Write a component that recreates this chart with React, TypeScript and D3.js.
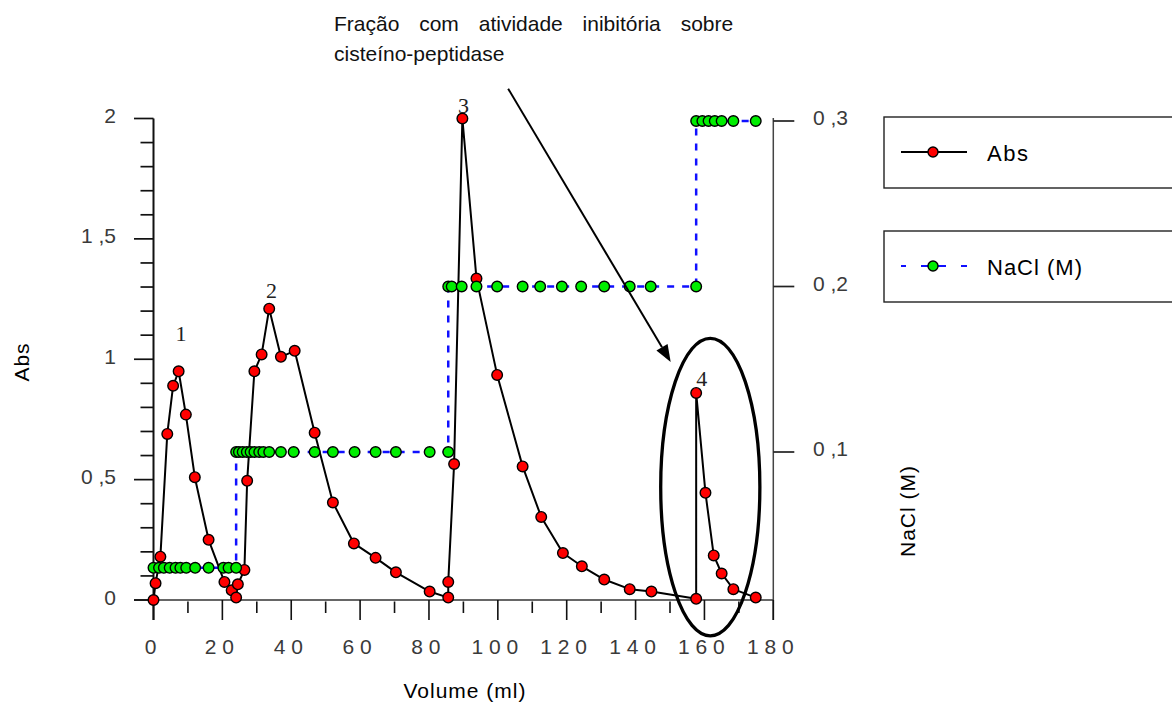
import React, { useEffect, useRef } from 'react'
import * as d3 from 'd3'

// Abs (red points, black line)
const absVolume = [0, 0.6, 2, 4, 5.7, 7.3, 9.4, 12, 16, 20.6, 22.7, 24, 24.5, 26.4, 27.2, 29.3, 31.4, 33.6, 37, 41,
    46.8, 52.1, 58.2, 64.5, 70.4, 80.2, 85.6, 85.6, 87.3, 89.7, 93.8, 99.8, 107.2, 112.6, 118.9, 124.4, 130.9, 138.3, 144.6, 157.6,
    157.6, 160.3, 162.7, 165, 168.4, 174.9]
const absValues = [0, 0.07, 0.18, 0.69, 0.89, 0.95, 0.77, 0.51, 0.25, 0.075, 0.04, 0.01, 0.065, 0.125, 0.495, 0.95, 1.02, 1.21, 1.01, 1.035,
    0.695, 0.405, 0.235, 0.175, 0.115, 0.035, 0.01, 0.075, 0.565, 2.0, 1.335, 0.935, 0.555, 0.345, 0.195, 0.14, 0.085, 0.045, 0.035, 0.005,
    0.86, 0.445, 0.185, 0.11, 0.045, 0.01]

// NaCl step gradient (green points, blue dashed line)
const naclVolume = [0, 1.6, 3, 4.7, 6.4, 7.8, 9.5, 12.1, 16, 20.3, 21.8, 24,
    24, 24.8, 25.9, 27.1, 28.2, 29.3, 30.7, 31.9, 33.6, 37, 40.7, 46.8, 52.1, 58.4, 64.5, 70.4, 80.2, 85.6,
    85.6, 86.6, 89.5, 93.8, 99.8, 107.2, 112.3, 118.6, 124.2, 130.9, 138.3, 144.4, 157.6,
    157.6, 159.4, 161.2, 163, 165, 168.4, 174.9]
const naclValues = [0.03, 0.03, 0.03, 0.03, 0.03, 0.03, 0.03, 0.03, 0.03, 0.03, 0.03, 0.03,
    0.1, 0.1, 0.1, 0.1, 0.1, 0.1, 0.1, 0.1, 0.1, 0.1, 0.1, 0.1, 0.1, 0.1, 0.1, 0.1, 0.1, 0.1,
    0.2, 0.2, 0.2, 0.2, 0.2, 0.2, 0.2, 0.2, 0.2, 0.2, 0.2, 0.2, 0.2,
    0.3, 0.3, 0.3, 0.3, 0.3, 0.3, 0.3]

// axes
const volumeTicks = [0, 20, 40, 60, 80, 100, 120, 140, 160, 180]
const volumeMinorTicks = [10, 30, 50, 70, 90, 110, 130, 150, 170]
const absTicks = [0, 0.5, 1, 1.5, 2]
const absTickLabels = ['0', '0 ,5', '1', '1 ,5', '2']
const absMinorTicks = [0.1, 0.2, 0.3, 0.4, 0.6, 0.7, 0.8, 0.9, 1.1, 1.2, 1.3, 1.4, 1.6, 1.7, 1.8, 1.9]
const naclTicks = [0.1, 0.2, 0.3]
const naclTickLabels = ['0 ,1', '0 ,2', '0 ,3']

// peak numbers (volume, abs where the number sits)
const peakNames = ['1', '2', '3', '4']
const peakVolume = [8, 34.3, 90, 159.2]
const peakAbs = [1.075, 1.255, 2.023, 0.888]

// highlighted fraction (ellipse) and arrow, in data units
const fractionCenter = [161.7, 0.469]
const fractionRadius = [14.4, 0.618]
const arrowFrom = [103, 2.124]
const arrowTo = [150.2, 0.989]

const noteLines = ['Fração com atividade inibitória sobre', 'cisteíno-peptidase']

const App = () => {
    const svgRef = useRef<SVGSVGElement>(null)

    useEffect(() => {
        const svg = d3.select(svgRef.current)
        svg.selectAll('*').remove()

        const sans = "'Liberation Sans', Arial, sans-serif"
        const serif = "'Liberation Serif', 'Times New Roman', serif"

        const x = d3.scaleLinear().domain([0, 180]).range([153.5, 773.3])
        const y = d3.scaleLinear().domain([0, 2]).range([600, 118.5])
        const y2 = d3.scaleLinear().domain([0, 0.3]).range([617.5, 121])

        const abs = absVolume.map((v, i) => ({ v, a: absValues[i] }))
        const nacl = naclVolume.map((v, i) => ({ v, c: naclValues[i] }))

        // --- axes ---
        const axes = svg.append('g')
        // left axis line (runs down past 0 like the original)
        axes.append('line').attr('x1', x(0)).attr('x2', x(0)).attr('y1', y(2)).attr('y2', 620)
            .attr('stroke', '#111').attr('stroke-width', 2)
        // bottom axis line (runs left past 0)
        axes.append('line').attr('x1', 134).attr('x2', x(180)).attr('y1', y(0)).attr('y2', y(0))
            .attr('stroke', '#333').attr('stroke-width', 1.4)
        // right axis line
        axes.append('line').attr('x1', x(180)).attr('x2', x(180)).attr('y1', y2(0.3) - 3).attr('y2', 620)
            .attr('stroke', '#444').attr('stroke-width', 1.5)

        axes.selectAll('.ymaj').data(absTicks).join('line')
            .attr('x1', 134).attr('x2', x(0)).attr('y1', d => y(d)).attr('y2', d => y(d))
            .attr('stroke', '#111').attr('stroke-width', 1.7)
        axes.selectAll('.ymin').data(absMinorTicks).join('line')
            .attr('x1', 140.5).attr('x2', x(0)).attr('y1', d => y(d)).attr('y2', d => y(d))
            .attr('stroke', '#111').attr('stroke-width', 1.7)
        axes.selectAll('.ylab').data(absTicks).join('text')
            .attr('x', 116).attr('y', d => y(d) + 4.5)
            .attr('text-anchor', 'end').attr('font-family', sans).attr('font-size', 21).attr('fill', '#3a3a3a')
            .text((d, i) => absTickLabels[i])

        axes.selectAll('.xmaj').data(volumeTicks).join('line')
            .attr('x1', d => x(d)).attr('x2', d => x(d)).attr('y1', y(0)).attr('y2', 620)
            .attr('stroke', '#111').attr('stroke-width', 1.6)
        axes.selectAll('.xmin').data(volumeMinorTicks).join('line')
            .attr('x1', d => x(d)).attr('x2', d => x(d)).attr('y1', y(0) + 1.5).attr('y2', 613)
            .attr('stroke', '#111').attr('stroke-width', 1.6)
        axes.selectAll('.xlab').data(volumeTicks).join('text')
            .attr('x', d => x(d) - 3).attr('y', 654)
            .attr('text-anchor', 'middle').attr('font-family', sans).attr('font-size', 21).attr('fill', '#3a3a3a')
            .text(d => String(d).split('').join(' '))

        axes.selectAll('.y2maj').data(naclTicks).join('line')
            .attr('x1', x(180)).attr('x2', x(180) + 21).attr('y1', d => y2(d)).attr('y2', d => y2(d))
            .attr('stroke', '#222').attr('stroke-width', 1.7)
        axes.selectAll('.y2lab').data(naclTicks).join('text')
            .attr('x', 813).attr('y', d => y2(d) + 4)
            .attr('font-family', sans).attr('font-size', 21).attr('fill', '#3a3a3a')
            .text((d, i) => naclTickLabels[i])

        // axis titles
        svg.append('text').attr('transform', 'translate(29,362) rotate(-90)')
            .attr('text-anchor', 'middle').attr('font-family', sans).attr('font-size', 21)
            .attr('letter-spacing', 1).text('Abs')
        svg.append('text').attr('transform', 'translate(915,511) rotate(-90)')
            .attr('text-anchor', 'middle').attr('font-family', sans).attr('font-size', 21)
            .attr('letter-spacing', 1).text('NaCl (M)')
        svg.append('text').attr('x', 465).attr('y', 698)
            .attr('text-anchor', 'middle').attr('font-family', sans).attr('font-size', 21)
            .attr('letter-spacing', 1).text('Volume (ml)')

        // peak numbers (under the markers)
        svg.append('g').selectAll('text').data(peakNames).join('text')
            .attr('x', (d, i) => x(peakVolume[i])).attr('y', (d, i) => y(peakAbs[i]))
            .attr('text-anchor', 'middle').attr('font-family', serif).attr('font-size', 22).attr('fill', '#222')
            .text(d => d)

        // --- series ---
        const naclLine = d3.line<{ v: number, c: number }>().x(d => x(d.v)).y(d => y2(d.c))
        const absLine = d3.line<{ v: number, a: number }>().x(d => x(d.v)).y(d => y(d.a))

        svg.append('path').datum(nacl).attr('d', naclLine)
            .attr('fill', 'none').attr('stroke', '#1010ff').attr('stroke-width', 2.5).attr('stroke-dasharray', '7 8')
        svg.append('path').datum(abs).attr('d', absLine)
            .attr('fill', 'none').attr('stroke', '#000').attr('stroke-width', 2).attr('stroke-linejoin', 'round')

        svg.append('g').selectAll('circle').data(abs).join('circle')
            .attr('cx', d => x(d.v)).attr('cy', d => y(d.a)).attr('r', 5.3)
            .attr('fill', '#ff0000').attr('stroke', '#000').attr('stroke-width', 1.4)
        svg.append('g').selectAll('circle').data(nacl).join('circle')
            .attr('cx', d => x(d.v)).attr('cy', d => y2(d.c)).attr('r', 5.3)
            .attr('fill', '#00ee00').attr('stroke', '#000').attr('stroke-width', 1.4)

        // --- annotation: ellipse + arrow + note ---
        svg.append('ellipse')
            .attr('cx', x(fractionCenter[0])).attr('cy', y(fractionCenter[1]))
            .attr('rx', x(fractionCenter[0] + fractionRadius[0]) - x(fractionCenter[0]))
            .attr('ry', y(fractionCenter[1]) - y(fractionCenter[1] + fractionRadius[1]))
            .attr('fill', 'none').attr('stroke', '#000').attr('stroke-width', 3.3)

        const ax0 = x(arrowFrom[0]), ay0 = y(arrowFrom[1])
        const ax1 = x(arrowTo[0]), ay1 = y(arrowTo[1])
        const len = Math.hypot(ax1 - ax0, ay1 - ay0)
        const ux = (ax1 - ax0) / len, uy = (ay1 - ay0) / len
        const headLen = 17, headHalf = 6.5
        const bx = ax1 - ux * headLen, by = ay1 - uy * headLen
        svg.append('line').attr('x1', ax0).attr('y1', ay0).attr('x2', bx).attr('y2', by)
            .attr('stroke', '#000').attr('stroke-width', 2)
        svg.append('path')
            .attr('d', `M${ax1},${ay1}L${bx - uy * headHalf},${by + ux * headHalf}L${bx + uy * headHalf},${by - ux * headHalf}Z`)
            .attr('fill', '#000')

        svg.append('g').selectAll('text').data(noteLines).join('text')
            .attr('x', 334).attr('y', (d, i) => 31 + i * 30)
            .attr('font-family', sans).attr('font-size', 21).attr('fill', '#111')
            .attr('word-spacing', (d, i) => i === 0 ? 14 : 0)
            .text(d => d)

        // --- legend ---
        const legend = svg.append('g')
        legend.append('rect').attr('x', 884).attr('y', 117).attr('width', 320).attr('height', 71)
            .attr('fill', 'none').attr('stroke', '#222').attr('stroke-width', 1.4)
        legend.append('rect').attr('x', 884).attr('y', 231).attr('width', 320).attr('height', 71)
            .attr('fill', 'none').attr('stroke', '#222').attr('stroke-width', 1.4)
        legend.append('line').attr('x1', 901).attr('x2', 967).attr('y1', 152).attr('y2', 152)
            .attr('stroke', '#000').attr('stroke-width', 2)
        legend.append('circle').attr('cx', 933).attr('cy', 152).attr('r', 5)
            .attr('fill', '#ff0000').attr('stroke', '#000').attr('stroke-width', 1.4)
        legend.append('text').attr('x', 987).attr('y', 160.5)
            .attr('font-family', sans).attr('font-size', 22).attr('letter-spacing', 1.5).text('Abs')
        legend.append('line').attr('x1', 901).attr('x2', 967).attr('y1', 266).attr('y2', 266)
            .attr('stroke', '#1010ff').attr('stroke-width', 2.2).attr('stroke-dasharray', '5 15 25 15 6')
        legend.append('circle').attr('cx', 933).attr('cy', 266).attr('r', 5)
            .attr('fill', '#00ee00').attr('stroke', '#000').attr('stroke-width', 1.4)
        legend.append('text').attr('x', 987).attr('y', 274.5)
            .attr('font-family', sans).attr('font-size', 22).attr('letter-spacing', 1).text('NaCl (M)')
    }, [])

    return (
        <svg ref={svgRef} width={1172} height={713}
            style={{ position: 'absolute', left: 0, top: 0, background: '#fff' }} />
    )
}

export default App
